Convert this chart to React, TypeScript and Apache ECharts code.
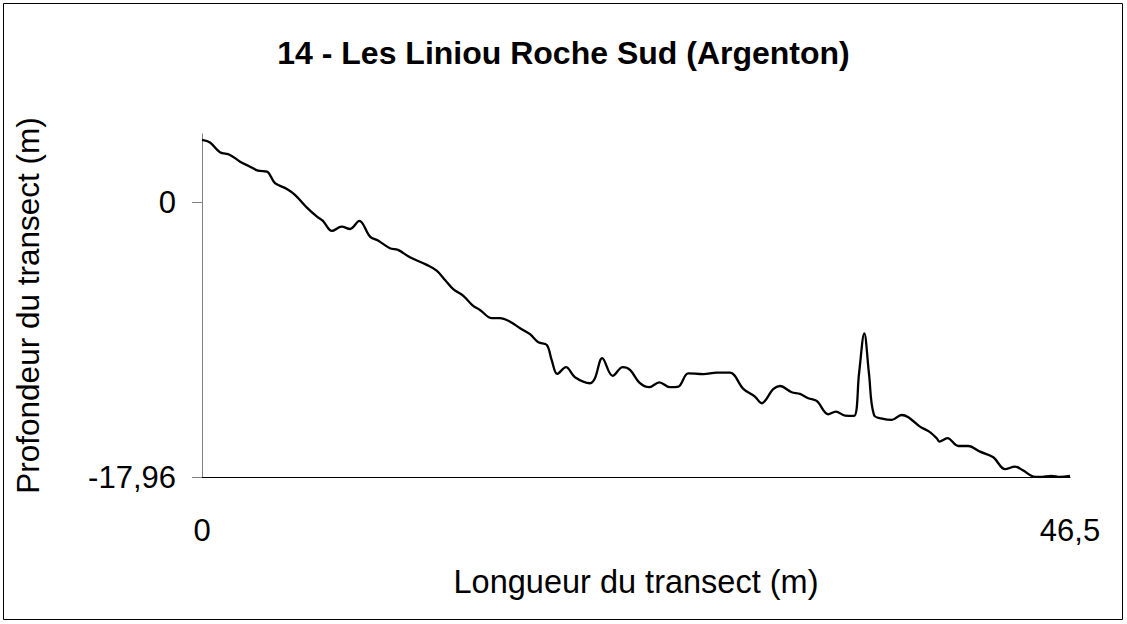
import React, { useEffect, useRef } from "react";
import * as echarts from "echarts";

const titleText = "14 - Les Liniou Roche Sud (Argenton)";
const xAxisName = "Longueur du transect (m)";
const yAxisName = "Profondeur du transect (m)";

const xMin = 0;
const xMax = 46.5;
const yMin = -17.96;
const yMax = 4.5;
const xTickValues = [0, 46.5];
const yTickValues = [-17.96, 0];

const distance = [
  0, 0.43, 0.96, 1.5, 2.04, 2.57, 3.0, 3.48, 3.91, 4.55, 4.98, 5.62, 6.16, 6.48, 6.96, 7.48, 7.93, 8.43,
  9.0, 9.43, 10.07, 10.5, 11.14, 12.04, 12.57, 13.02, 13.46, 14.0, 14.53, 14.89, 15.52, 15.96, 16.5,
  17.04, 17.57, 18.02, 18.47, 18.73, 19.03, 19.5, 19.98, 20.79, 21.05, 21.44, 22.0, 22.54, 22.93, 23.43,
  23.96, 24.5, 25.07, 25.52, 26.05, 26.86, 27.57, 28.29, 29.0, 29.62, 29.98, 30.6, 30.96, 31.59, 32.03,
  32.48, 32.93, 33.55, 33.96, 34.45, 34.93, 35.2, 35.48, 35.73, 36.0, 36.5, 36.95, 37.48, 37.84, 38.46,
  38.96, 39.36, 39.5, 39.93, 40.52, 41.05, 41.68, 42.39, 43.02, 43.55, 44.0, 44.53, 44.89, 45.52, 45.96,
  46.5,
];

const depth = [
  4.11, 3.94, 3.31, 3.13, 2.69, 2.36, 2.1, 2.04, 1.28, 0.9, 0.51, -0.32, -0.91, -1.19, -1.85, -1.57,
  -1.72, -1.19, -2.22, -2.48, -2.98, -3.09, -3.57, -4.07, -4.45, -5.06, -5.66, -6.1, -6.76, -7.02, -7.56,
  -7.56, -7.79, -8.22, -8.61, -9.14, -9.31, -10.29, -11.21, -10.77, -11.43, -11.82, -11.49, -10.18,
  -11.34, -10.77, -10.95, -11.78, -12.08, -11.76, -12.08, -12.04, -11.17, -11.23, -11.13, -11.13, -12.19,
  -12.7, -13.13, -12.21, -12.0, -12.41, -12.52, -12.8, -12.98, -13.85, -13.68, -13.94, -13.96, -11.17,
  -8.55, -11.17, -13.9, -14.16, -14.22, -13.9, -14.05, -14.66, -14.99, -15.42, -15.64, -15.42, -15.93,
  -15.93, -16.3, -16.67, -17.45, -17.28, -17.54, -17.93, -17.96, -17.89, -17.96, -17.89,
];

const fmt = (v: number) => String(v).replace(".", ",");

export default function App() {
  const ref = useRef<HTMLDivElement>(null);
  useEffect(() => {
    if (!ref.current) return;
    const chart = echarts.init(ref.current, null, { renderer: "svg" });
    const font = "'Liberation Sans', Arial, sans-serif";
    chart.setOption({
      animation: false,
      backgroundColor: "#ffffff",
      textStyle: { fontFamily: font },
      title: {
        text: titleText,
        left: "center",
        top: 32,
        textStyle: { fontFamily: font, fontSize: 32, fontWeight: "bold", color: "#000" },
      },
      graphic: [
        {
          type: "rect",
          shape: { x: 3.5, y: 3.5, width: 1119, height: 616 },
          style: { fill: "none", stroke: "#000", lineWidth: 1 },
          silent: true,
        },
      ],
      grid: { left: 202, right: 57, top: 134, bottom: 147, containLabel: false },
      xAxis: {
        type: "value",
        min: xMin,
        max: xMax,
        name: xAxisName,
        nameLocation: "middle",
        nameGap: 88,
        nameTextStyle: { fontFamily: font, fontSize: 32.5, color: "#000" },
        axisLine: { onZero: false, lineStyle: { color: "#000", width: 1 } },
        axisTick: { show: false },
        splitLine: { show: false },
        axisLabel: {
          customValues: xTickValues,
          formatter: (v: number) => fmt(v),
          margin: 38,
          fontFamily: font,
          fontSize: 31,
          color: "#000",
        },
      },
      yAxis: {
        type: "value",
        min: yMin,
        max: yMax,
        name: yAxisName,
        nameLocation: "middle",
        nameGap: 158,
        nameTextStyle: { fontFamily: font, fontSize: 31.5, color: "#000" },
        axisLine: { show: true, onZero: false, lineStyle: { color: "#808080", width: 1 } },
        axisTick: {
          show: true,
          customValues: yTickValues,
          length: 10,
          lineStyle: { color: "#808080" },
        },
        splitLine: { show: false },
        axisLabel: {
          customValues: yTickValues,
          formatter: (v: number) => fmt(v),
          margin: 26,
          fontFamily: font,
          fontSize: 31,
          color: "#000",
        },
      },
      series: [
        {
          type: "line",
          data: distance.map((d, i) => [d, depth[i]]),
          smooth: 0.35,
          showSymbol: false,
          lineStyle: { color: "#000", width: 2.3 },
        },
      ],
    });
    return () => chart.dispose();
  }, []);
  return (
    <div
      ref={ref}
      style={{ position: "fixed", left: 0, top: 0, width: 1127, height: 624, background: "#fff" }}
    />
  );
}
